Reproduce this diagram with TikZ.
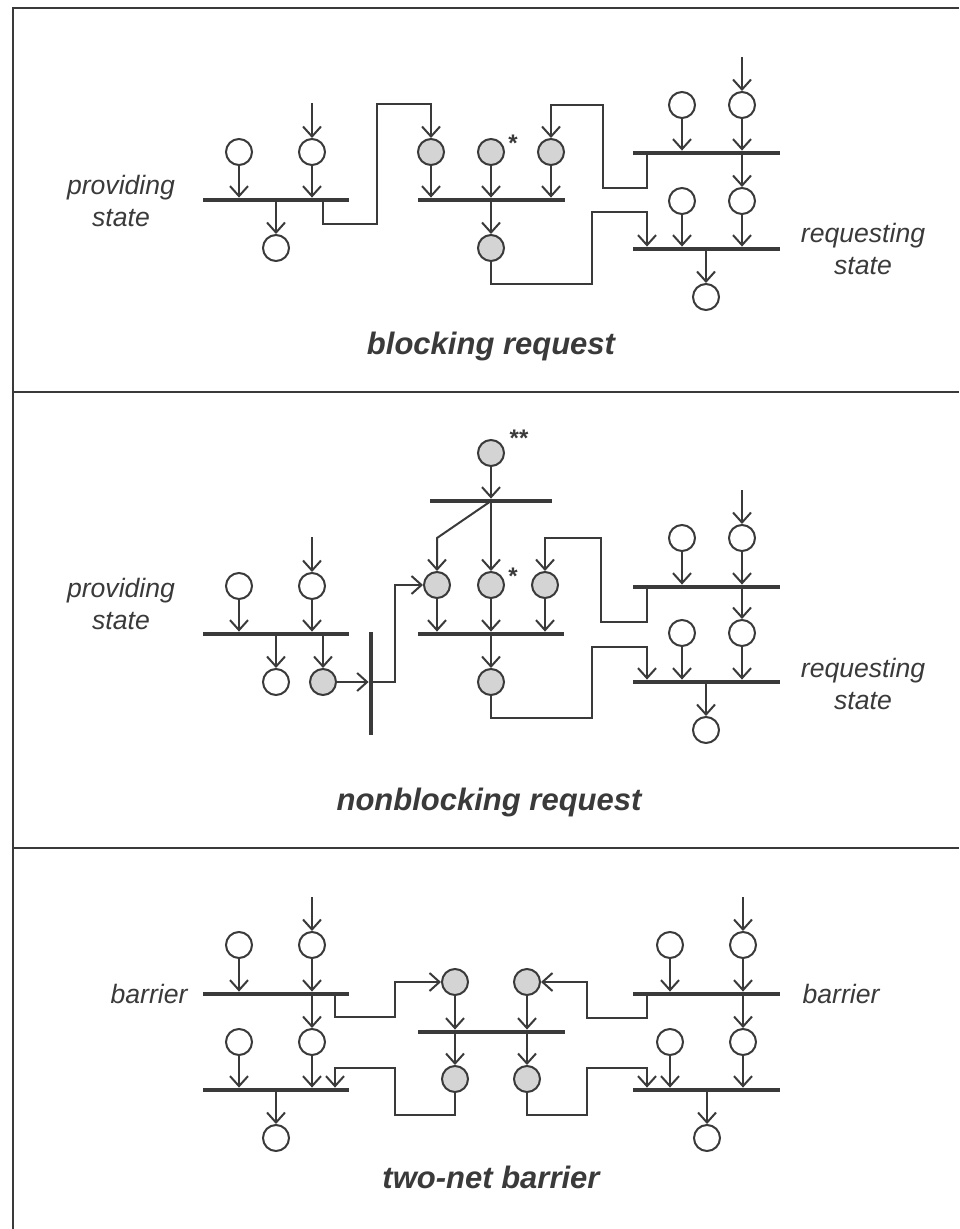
\documentclass[tikz,border=0pt]{standalone}
\usepackage{fontspec}
\setmainfont{Liberation Sans}
\usetikzlibrary{arrows.meta}
\definecolor{ink}{HTML}{3A3A3A}
\definecolor{shade}{HTML}{D4D4D4}

\begin{document}
\begin{tikzpicture}[x=0.5pt,y=-0.5pt,
  place/.style={circle, draw=ink, line width=1pt, minimum size=13pt, inner sep=0pt, fill=white},
  marked/.style={place, fill=shade},
  hbar/.style={rectangle, fill=ink, inner sep=0pt, minimum height=2pt, minimum width=73pt},
  vbar/.style={rectangle, fill=ink, inner sep=0pt, minimum width=2pt},
  arc/.style={draw=ink, line width=1pt},
  arr/.style={arc, -{Straight Barb[length=5pt,width=9pt,line width=1pt]}},
  lbl/.style={font=\fontsize{13.3}{16}\selectfont\itshape, text=ink, align=center},
  ttl/.style={font=\fontsize{15.5}{18}\selectfont\bfseries\itshape, text=ink, anchor=base},
  starmark/.style={font=\fontsize{12}{12}\selectfont\bfseries, text=ink, inner sep=0pt}
]
\useasboundingbox (0,0) rectangle (959,1229);

% frame and panel dividers
\draw[ink, line width=1pt] (959,8) -- (13,8) -- (13,1229);
\draw[ink, line width=1pt] (13,392) -- (959,392);
\draw[ink, line width=1pt] (13,848) -- (959,848);

% ================= blocking request =================
\node[hbar] (A1) at (276,200) {};
\node[hbar, minimum width=73.5pt] (B1) at (491.5,200) {};
\node[hbar, minimum width=73.5pt] (C1) at (706.5,153) {};
\node[hbar, minimum width=73.5pt] (C2) at (706.5,249) {};

\node[place] (a1) at (239,152) {};
\node[place] (a2) at (312,152) {};
\node[place] (a3) at (276,248) {};
\node[marked] (b1) at (431,152) {};
\node[marked] (b2) at (491,152) {};
\node[marked] (b3) at (551,152) {};
\node[marked] (b4) at (491,248) {};
\node[place] (c1) at (682,105) {};
\node[place] (c2) at (742,105) {};
\node[place] (c3) at (682,201) {};
\node[place] (c4) at (742,201) {};
\node[place] (c5) at (706,297) {};

\coordinate (a2in) at (312,103);
\coordinate (c2in) at (742,57);
\coordinate (A1o) at (323,200);
\coordinate (C1o) at (647,153);
\coordinate (C2i) at (647,249);

\draw[arr] (a2in) -- (a2.north);
\draw[arr] (a1.south) -- (a1 |- A1.north);
\draw[arr] (a2.south) -- (a2 |- A1.north);
\draw[arr] (a3 |- A1) -- (a3.north);
\draw[arr] (A1o) -- (323,224) -- (377,224) -- (377,104) -- (431,104) -- (b1.north);
\draw[arr] (b1.south) -- (b1 |- B1.north);
\draw[arr] (b2.south) -- (b2 |- B1.north);
\draw[arr] (b3.south) -- (b3 |- B1.north);
\draw[arr] (b4 |- B1) -- (b4.north);
\draw[arr] (b4.south) -- (491,284) -- (592,284) -- (592,212) -- (647,212) -- (C2i |- C2.north);
\draw[arr] (C1o) -- (647,188) -- (603,188) -- (603,105) -- (551,105) -- (b3.north);
\draw[arr] (c2in) -- (c2.north);
\draw[arr] (c1.south) -- (c1 |- C1.north);
\draw[arr] (c2.south) -- (c2 |- C1.north);
\draw[arr] (c4 |- C1) -- (c4.north);
\draw[arr] (c3.south) -- (c3 |- C2.north);
\draw[arr] (c4.south) -- (c4 |- C2.north);
\draw[arr] (c5 |- C2) -- (c5.north);

\node[starmark] (s1) at (513,143) {*};
\node[lbl] (p1) at (121,201) {providing\\state};
\node[lbl] (r1) at (863,249) {requesting\\state};
\node[ttl] (t1) at (491,355) {blocking request};

% ================= nonblocking request =================
\node[hbar] (D1) at (276,634) {};
\node[vbar, minimum height=51.5pt] (V) at (371,683.5) {};
\node[hbar, minimum width=61pt] (E0) at (491,501) {};
\node[hbar] (E1) at (491,634) {};
\node[hbar, minimum width=73.5pt] (F1) at (706.5,587) {};
\node[hbar, minimum width=73.5pt] (F2) at (706.5,682) {};

\node[place] (d1) at (239,586) {};
\node[place] (d2) at (312,586) {};
\node[place] (d3) at (276,682) {};
\node[marked] (d4) at (323,682) {};
\node[marked] (e0) at (491,453) {};
\node[marked] (e1) at (437,585) {};
\node[marked] (e2) at (491,585) {};
\node[marked] (e3) at (545,585) {};
\node[marked] (e4) at (491,682) {};
\node[place] (f1) at (682,538) {};
\node[place] (f2) at (742,538) {};
\node[place] (f3) at (682,633) {};
\node[place] (f4) at (742,633) {};
\node[place] (f5) at (706,730) {};

\coordinate (d2in) at (312,537);
\coordinate (f2in) at (742,490);
\coordinate (F1o) at (647,587);
\coordinate (F2i) at (647,682);

\draw[arr] (d2in) -- (d2.north);
\draw[arr] (d1.south) -- (d1 |- D1.north);
\draw[arr] (d2.south) -- (d2 |- D1.north);
\draw[arr] (d3 |- D1) -- (d3.north);
\draw[arr] (d4 |- D1) -- (d4.north);
\draw[arr] (d4.east) -- (V.west |- d4);
\draw[arr] (V |- d4) -- (395,682) -- (395,585) -- (e1.west);
\draw[arr] (e0.south) -- (e0 |- E0.north);
\draw[arr] (E0.center) -- (e2.north);
\draw[arr] (E0.center) -- (437,538) -- (e1.north);
\draw[arr] (e1.south) -- (e1 |- E1.north);
\draw[arr] (e2.south) -- (e2 |- E1.north);
\draw[arr] (e3.south) -- (e3 |- E1.north);
\draw[arr] (e4 |- E1) -- (e4.north);
\draw[arr] (e4.south) -- (491,718) -- (592,718) -- (592,647) -- (647,647) -- (F2i |- F2.north);
\draw[arr] (F1o) -- (647,622) -- (601,622) -- (601,538) -- (545,538) -- (e3.north);
\draw[arr] (f2in) -- (f2.north);
\draw[arr] (f1.south) -- (f1 |- F1.north);
\draw[arr] (f2.south) -- (f2 |- F1.north);
\draw[arr] (f4 |- F1) -- (f4.north);
\draw[arr] (f3.south) -- (f3 |- F2.north);
\draw[arr] (f4.south) -- (f4 |- F2.north);
\draw[arr] (f5 |- F2) -- (f5.north);

\node[starmark] (s2) at (513,576) {*};
\node[starmark] (s3) at (519,438) {**};
\node[lbl] (p2) at (121,604) {providing\\state};
\node[lbl] (r2) at (863,684) {requesting\\state};
\node[ttl] (t2) at (489,810) {nonblocking request};

% ================= two-net barrier =================
\node[hbar] (G1) at (276,994) {};
\node[hbar] (G2) at (276,1090) {};
\node[hbar, minimum width=73.5pt] (H1) at (491.5,1032) {};
\node[hbar, minimum width=73.5pt] (K1) at (706.5,994) {};
\node[hbar, minimum width=73.5pt] (K2) at (706.5,1090) {};

\node[place] (g1) at (239,945) {};
\node[place] (g2) at (312,945) {};
\node[place] (g3) at (239,1042) {};
\node[place] (g4) at (312,1042) {};
\node[place] (g5) at (276,1138) {};
\node[marked] (h1) at (455,982) {};
\node[marked] (h2) at (527,982) {};
\node[marked] (h3) at (455,1079) {};
\node[marked] (h4) at (527,1079) {};
\node[place] (k1) at (670,945) {};
\node[place] (k2) at (743,945) {};
\node[place] (k3) at (670,1042) {};
\node[place] (k4) at (743,1042) {};
\node[place] (k5) at (707,1138) {};

\coordinate (g2in) at (312,897);
\coordinate (k2in) at (743,897);
\coordinate (G1o) at (335,994);
\coordinate (G2i) at (335,1090);
\coordinate (K1o) at (647,994);
\coordinate (K2i) at (647,1090);

\draw[arr] (g2in) -- (g2.north);
\draw[arr] (g1.south) -- (g1 |- G1.north);
\draw[arr] (g2.south) -- (g2 |- G1.north);
\draw[arr] (g4 |- G1) -- (g4.north);
\draw[arr] (g3.south) -- (g3 |- G2.north);
\draw[arr] (g4.south) -- (g4 |- G2.north);
\draw[arr] (g5 |- G2) -- (g5.north);
\draw[arr] (G1o) -- (335,1017) -- (395,1017) -- (395,982) -- (h1.west);
\draw[arr] (h3.south) -- (455,1115) -- (395,1115) -- (395,1068) -- (335,1068) -- (G2i |- G2.north);
\draw[arr] (h1.south) -- (h1 |- H1.north);
\draw[arr] (h2.south) -- (h2 |- H1.north);
\draw[arr] (h3 |- H1) -- (h3.north);
\draw[arr] (h4 |- H1) -- (h4.north);
\draw[arr] (K1o) -- (647,1018) -- (587,1018) -- (587,982) -- (h2.east);
\draw[arr] (h4.south) -- (527,1115) -- (587,1115) -- (587,1068) -- (647,1068) -- (K2i |- K2.north);
\draw[arr] (k2in) -- (k2.north);
\draw[arr] (k1.south) -- (k1 |- K1.north);
\draw[arr] (k2.south) -- (k2 |- K1.north);
\draw[arr] (k4 |- K1) -- (k4.north);
\draw[arr] (k3.south) -- (k3 |- K2.north);
\draw[arr] (k4.south) -- (k4 |- K2.north);
\draw[arr] (k5 |- K2) -- (k5.north);

\node[lbl] (w1) at (149,994) {barrier};
\node[lbl] (w2) at (841,994) {barrier};
\node[ttl] (t3) at (491,1188) {two-net barrier};
\end{tikzpicture}
\end{document}
